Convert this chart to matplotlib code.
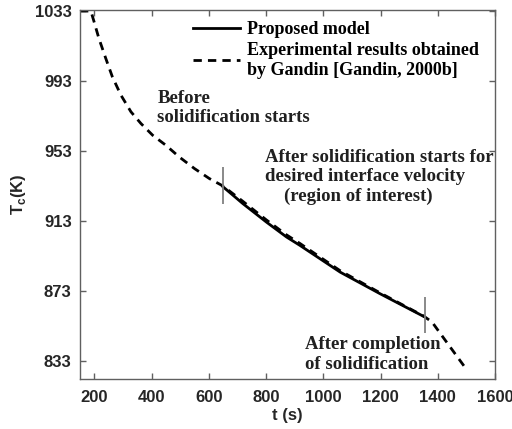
import numpy as np
import matplotlib
matplotlib.use('Agg')
import matplotlib.pyplot as plt

# experimental cooling curve (Gandin)
t_exp = [150, 188, 199, 216, 240, 263, 293, 328, 363, 404, 450, 497, 550, 602,
         649, 719, 801, 872, 918, 1059, 1198, 1351, 1380, 1440, 1503]
T_exp = [1033, 1033, 1027, 1017.4, 1006, 995.5, 985, 975.5, 968.8, 962.1, 956.4, 949.7,
         943.1, 937.4, 933.2, 924.4, 913.8, 905.2, 900.4, 884.8, 872.2, 858.9, 855.5,
         842, 827.9]

# proposed model, region of interest
t_mod = [649, 719, 801, 872, 918, 1059, 1198, 1351]
T_mod = [932.8, 923.1, 912.6, 904, 899.3, 884, 871.7, 858.7]

# start / end markers
t_marks = [650, 1355]
T_mark_lo = [923, 849]
T_mark_hi = [944, 870]

x_ticks = [200, 400, 600, 800, 1000, 1200, 1400, 1600]
y_ticks = [833, 873, 913, 953, 993, 1033]

serif = ['Liberation Serif', 'DejaVu Serif']
sans = ['Liberation Sans', 'DejaVu Sans']
plt.rcParams['font.family'] = sans
plt.rcParams['font.weight'] = 'bold'

fig = plt.figure(figsize=(5.12, 4.29), dpi=100)
ax = fig.add_axes([80 / 512, 1 - 379 / 429, 415 / 512, 369 / 429])

ax.plot(t_mod, T_mod, color='black', lw=2, label='Proposed model', zorder=3)
ax.plot(t_exp, T_exp, color='black', lw=2, dashes=(3, 2.2),
        label='Experimental results obtained\nby Gandin [Gandin, 2000b]')
ax.vlines(t_marks, T_mark_lo, T_mark_hi, color='#808080', lw=1.3, zorder=4)

ax.set_xlim(150, 1600)
ax.set_ylim(823, 1033.6)
ax.set_xticks(x_ticks)
ax.set_yticks(y_ticks)

for s in ax.spines.values():
    s.set_color('#606060')
    s.set_linewidth(1)
ax.tick_params(direction='in', top=True, right=True, length=4, width=1,
               color='#606060', labelcolor='#262626', labelsize=12)
ax.tick_params(axis='x', pad=8)
ax.tick_params(axis='y', pad=6)

ax.set_xlabel('t (s)', fontsize=12, fontweight='bold', color='#262626', labelpad=2)
ax.set_ylabel('T$_\\mathregular{c}$(K)', fontsize=12, fontweight='bold',
              color='#262626', labelpad=5)

tfont = dict(family=serif, fontweight='bold', fontsize=13.5, color='#202020',
             va='top', ha='left', linespacing=1.2)
ax.text(420, 988, 'Before\nsolidification starts', **tfont)
ax.text(796, 954.5, 'After solidification starts for\ndesired interface velocity\n    (region of interest)', **tfont)
ax.text(935, 847.5, 'After completion\nof solidification', **tfont)

leg = ax.legend(loc='upper left', bbox_to_anchor=(0.272, 0.97), frameon=False,
                borderpad=0, borderaxespad=0, handlelength=2.6, handletextpad=0.38,
                labelspacing=0.2, prop=dict(family=serif, weight='bold', size=13))
for txt in leg.get_texts():
    txt.set_linespacing(1.25)

fig.savefig('out.png', dpi=100)
